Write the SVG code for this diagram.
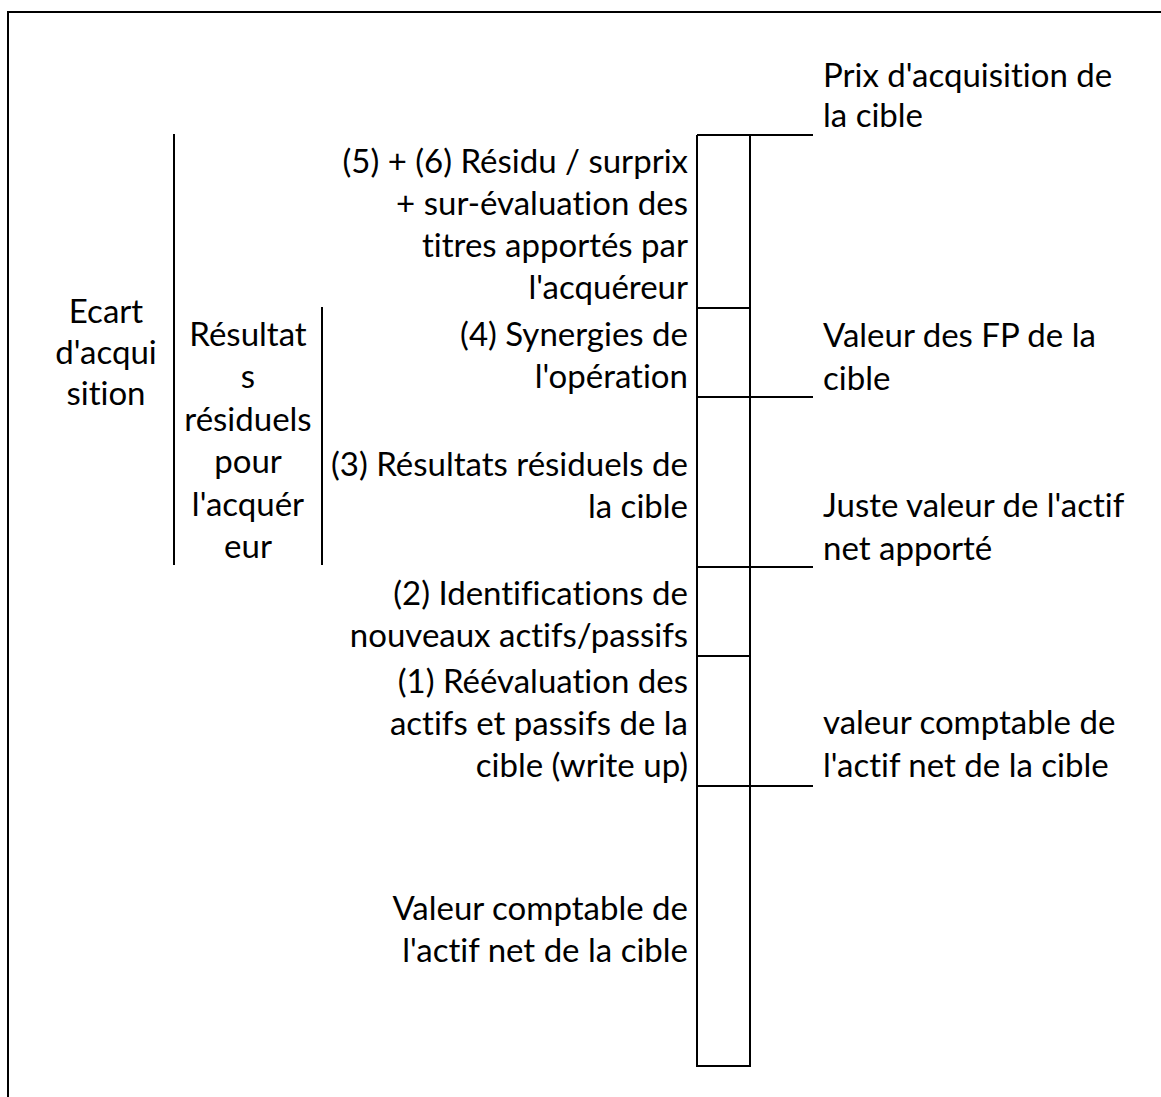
<svg xmlns="http://www.w3.org/2000/svg" width="1161" height="1097" viewBox="0 0 1161 1097">
<style>
text{font-family:Lato,"Liberation Sans",sans-serif;font-size:33px;fill:#000;font-variant-ligatures:none;font-feature-settings:"liga" 0,"clig" 0,"dlig" 0}
.r{text-anchor:end}
.m{text-anchor:middle}
.ln{stroke:#000;stroke-width:2;fill:none}
</style>
<rect x="0" y="0" width="1161" height="1097" fill="#fff"/>
<rect class="ln" x="8" y="12" width="1200" height="1200"/>
<g id="connectors">
<line class="ln" x1="174" y1="134" x2="174" y2="565"/>
<line class="ln" x1="322" y1="307" x2="322" y2="565"/>
<line class="ln" x1="697" y1="135" x2="813" y2="135"/>
<line class="ln" x1="697" y1="308" x2="750" y2="308"/>
<line class="ln" x1="697" y1="397" x2="813" y2="397"/>
<line class="ln" x1="697" y1="567" x2="813" y2="567"/>
<line class="ln" x1="697" y1="656" x2="750" y2="656"/>
<line class="ln" x1="697" y1="786" x2="813" y2="786"/>
<path class="ln" d="M697 135V1066H750V135"/>
</g>
<g id="ecart"><text class="m" x="106" y="323">Ecart</text><text class="m" x="106" y="364">d'acqui</text><text class="m" x="106" y="405">sition</text></g>
<g id="residuels-acquereur"><text class="m" x="248" y="346">Résultat</text><text class="m" x="248" y="388">s</text><text class="m" x="248" y="431">résiduels</text><text class="m" x="248" y="473">pour</text><text class="m" x="248" y="516">l'acquér</text><text class="m" x="248" y="558">eur</text></g>
<g id="n56"><text class="r" x="688" y="173">(5) + (6) Résidu / surprix</text><text class="r" x="688" y="215">+ sur-évaluation des</text><text class="r" x="688" y="257">titres apportés par</text><text class="r" x="688" y="299">l'acquéreur</text></g>
<g id="n4"><text class="r" x="688" y="346">(4) Synergies de</text><text class="r" x="688" y="388">l'opération</text></g>
<g id="n3"><text class="r" x="688" y="476">(3) Résultats résiduels de</text><text class="r" x="688" y="518">la cible</text></g>
<g id="n2"><text class="r" x="688" y="605">(2) Identifications de</text><text class="r" x="688" y="647">nouveaux actifs/passifs</text></g>
<g id="n1"><text class="r" x="688" y="693">(1) Réévaluation des</text><text class="r" x="688" y="735">actifs et passifs de la</text><text class="r" x="688" y="777">cible (write up)</text></g>
<g id="n0"><text class="r" x="688" y="920">Valeur comptable de</text><text class="r" x="688" y="962">l'actif net de la cible</text></g>
<g id="prix"><text x="823" y="87">Prix d'acquisition de</text><text x="823" y="127">la cible</text></g>
<g id="fp"><text x="823" y="347">Valeur des FP de la</text><text x="823" y="390">cible</text></g>
<g id="juste"><text x="823" y="517">Juste valeur de l'actif</text><text x="823" y="560">net apporté</text></g>
<g id="vc"><text x="823" y="734">valeur comptable de</text><text x="823" y="777">l'actif net de la cible</text></g>
</svg>
